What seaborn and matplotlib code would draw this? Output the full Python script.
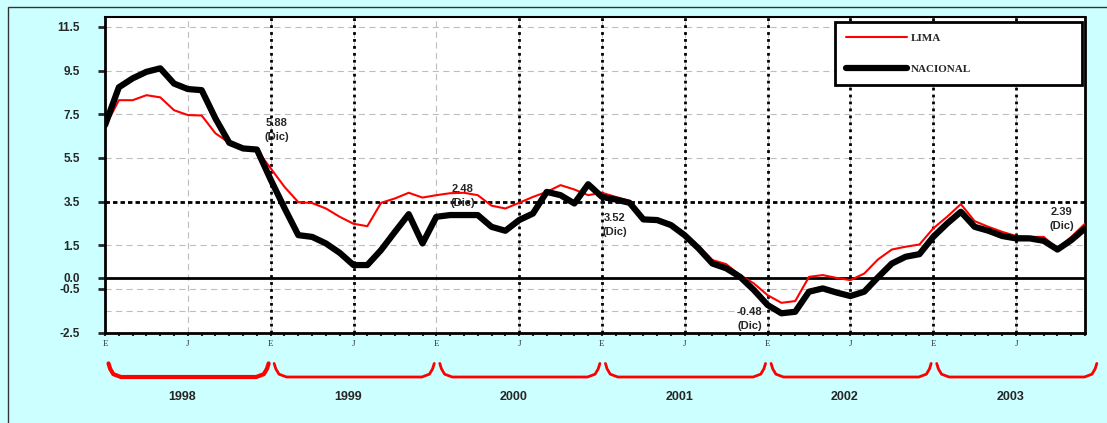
"""
Inflacion 12 meses: Lima vs Nacional, ene-1998 a dic-2003.
Saves out.png (1107x423).
"""

import matplotlib
matplotlib.use("Agg")
import matplotlib.pyplot as plt
from matplotlib.patches import Rectangle
import numpy as np
import seaborn as sns

# --- data ---------------------------------------------------------------
years = ["1998", "1999", "2000", "2001", "2002", "2003"]
month_letters = ["E", "J"] * 6

lima = [6.92, 8.14, 8.14, 8.37, 8.27, 7.68, 7.46, 7.44, 6.62, 6.19, 5.93, 5.85,
        5.02, 4.17, 3.47, 3.43, 3.18, 2.80, 2.48, 2.37, 3.44, 3.64, 3.90, 3.68,
        3.79, 3.88, 3.90, 3.79, 3.31, 3.18, 3.44, 3.71, 3.94, 4.25, 4.05, 3.79,
        3.90, 3.71, 3.53, 2.75, 2.72, 2.50, 2.05, 1.45, 0.82, 0.63, 0.13, -0.25,
        -0.79, -1.14, -1.06, 0.05, 0.13, 0.00, -0.10, 0.20, 0.85, 1.30, 1.43, 1.53,
        2.27, 2.80, 3.38, 2.60, 2.34, 2.11, 1.92, 1.88, 1.88, 1.35, 1.88, 2.49]

nacional = [7.00, 8.73, 9.14, 9.44, 9.60, 8.90, 8.65, 8.60, 7.30, 6.19, 5.93, 5.88,
            4.50, 3.20, 1.96, 1.88, 1.58, 1.15, 0.59, 0.59, 1.28, 2.11, 2.92, 1.58,
            2.80, 2.88, 2.88, 2.88, 2.34, 2.16, 2.65, 2.95, 3.94, 3.79, 3.41, 4.29,
            3.71, 3.59, 3.44, 2.68, 2.65, 2.42, 1.95, 1.35, 0.66, 0.44, 0.05, -0.55,
            -1.24, -1.62, -1.55, -0.63, -0.48, -0.67, -0.83, -0.63, 0.03, 0.66, 0.97, 1.09,
            1.88, 2.49, 3.03, 2.34, 2.16, 1.92, 1.81, 1.81, 1.70, 1.30, 1.73, 2.27]

# December call-outs
note_months = [11, 23, 35, 47, 71]
note_values = ["5.88", "2.48", "3.52", "-0.48", "2.39"]
note_offsets = [(14, 14), (29, 20), (19, -17), (-3, -22), (-17, 5)]

yticks = [-2.5, -0.5, 0.0, 1.5, 3.5, 5.5, 7.5, 9.5, 11.5]
ytick_labels = ["-2.5", "-0.5", "0.0", "1.5", "3.5", "5.5", "7.5", "9.5", "11.5"]
grid_y = [-1.5, -0.5, 1.5, 5.5, 7.5, 9.5, 11.5]
dotted_months = [12, 18, 30, 36, 42, 48, 54, 60, 66]

months = np.arange(len(lima))

sns.set_style("white")
plt.rcParams["font.family"] = ["Liberation Sans", "DejaVu Sans"]

BG = "#CCFFFF"
fig = plt.figure(figsize=(11.07, 4.23), dpi=100, facecolor=BG)
fig.patches.append(Rectangle((0.0072, -0.01), 1.05, 0.9927, transform=fig.transFigure,
                             fill=False, edgecolor="#333333", lw=1.0))
ax = fig.add_axes([0.0949, 0.2139, 0.8853, 0.7459])
ax.set_facecolor("white")

# grid + reference lines
for g in grid_y:
    ax.axhline(g, color="#BDBDBD", lw=0.8, ls=(0, (5.5, 4)), zorder=0.5)
for m in range(6, 72, 6):
    ax.axvline(m, color="#BDBDBD", lw=0.8, ls=(0, (5.5, 4)), zorder=0.5)
for m in dotted_months:
    ax.axvline(m, color="black", lw=2.0, ls=(0, (1, 1.5)), zorder=1)
ax.axhline(3.5, color="black", lw=2.0, ls=(0, (1.6, 1.1)), zorder=1)
ax.axhline(0.0, color="black", lw=2.0, zorder=1)

# series
sns.lineplot(x=months, y=lima, color="#FF0000", lw=1.5, ax=ax, label="LIMA", zorder=3)
sns.lineplot(x=months, y=nacional, color="black", lw=4.5, ax=ax, label="NACIONAL",
             zorder=4)

for m, txt, off in zip(note_months, note_values, note_offsets):
    ax.annotate(f"{txt}\n(Dic)", xy=(m, float(txt)), xytext=off, textcoords="offset points",
                ha="center", va="center", fontsize=8, fontweight="bold",
                linespacing=1.5, zorder=2)

ax.set_xlim(0, 71)
ax.set_ylim(-2.5, 11.95)
ax.set_xlabel("")
ax.set_ylabel("")

ax.set_yticks(yticks)
ax.set_yticklabels(ytick_labels, fontsize=8.5, fontweight="bold")
ax.set_xticks(np.arange(0, 72, 6))
ax.set_xticklabels(month_letters, fontsize=6.5, family="Liberation Serif", color="#333333")
ax.set_xticks(months, minor=True)
ax.tick_params(axis="y", which="major", direction="out", length=5, width=2, pad=13, left=True)
ax.tick_params(axis="x", which="both", direction="out", length=2.5, width=1.5, pad=3,
               bottom=True)

for side, lw in [("left", 2.0), ("right", 2.0), ("bottom", 2.0), ("top", 1.5)]:
    ax.spines[side].set_visible(True)
    ax.spines[side].set_color("black")
    ax.spines[side].set_linewidth(lw)

leg = ax.legend(loc="upper left", bbox_to_anchor=(0.745, 0.70, 0.252, 0.285), mode="expand",
                borderaxespad=0, fancybox=False, framealpha=1, edgecolor="black",
                handlelength=5.5, handletextpad=0.3, labelspacing=1.9, borderpad=1.0,
                prop=dict(family="Liberation Serif", weight="bold", size=8))
leg.get_frame().set_linewidth(2)

# year brackets under the axis
xt = ax.get_xaxis_transform()
for k, yr in enumerate(years):
    x0, x1 = 12 * k + 0.25, 12 * k + 11.85
    bx = [x0, x0 + 0.12, x0 + 0.35, x0 + 0.9, x1 - 0.9, x1 - 0.35, x1 - 0.12, x1]
    by = [-0.098, -0.115, -0.132, -0.141, -0.141, -0.132, -0.115, -0.098]
    ax.plot(bx, by, color="#FF0000", lw=3.0 if k == 0 else 2.0, transform=xt,
            clip_on=False, solid_joinstyle="round")
    ax.text(12 * k + 5.6, -0.2035, yr, transform=xt, ha="center", va="center",
            fontsize=9, fontweight="bold")

fig.savefig("out.png", dpi=100, facecolor=BG)
